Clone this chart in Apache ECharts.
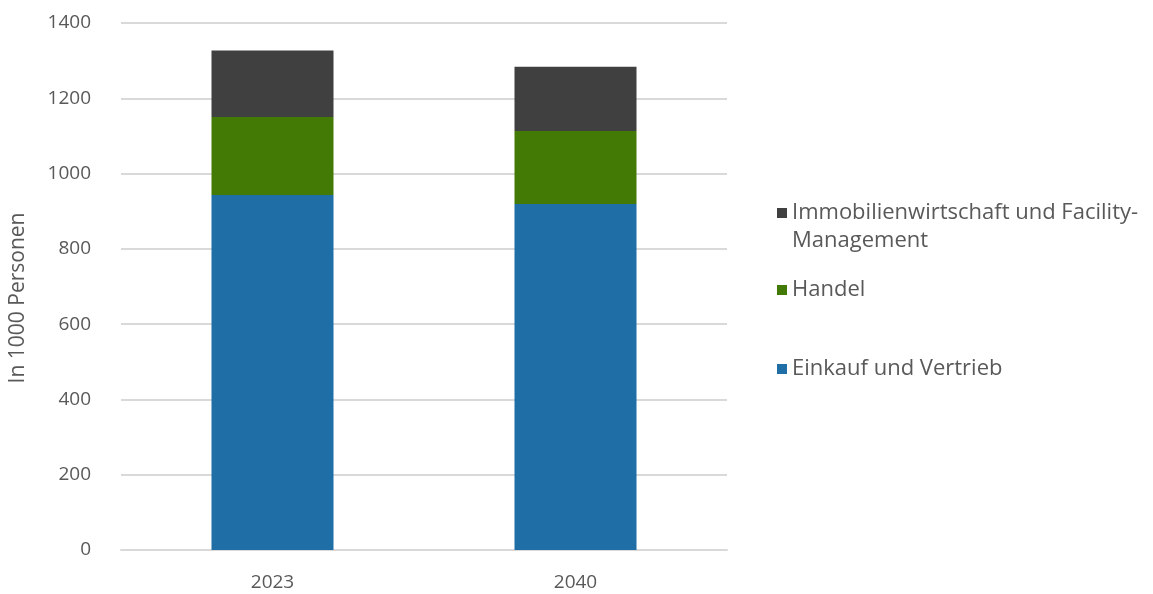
<!DOCTYPE html>
<html>
<head>
<meta charset="utf-8">
<script src="https://cdn.jsdelivr.net/npm/echarts@6/dist/echarts.min.js"></script>
<style>
  html, body { margin: 0; padding: 0; background: #fff; }
  #chart { width: 1153px; height: 594px; }
</style>
</head>
<body>
<div id="chart"></div>
<script>
// Jahre
const years = ['2023', '2040'];
// Werte in 1000 Personen
const einkauf = [943, 919];
const handel = [207, 194];
const immobilien = [177, 171];
const yTicks = [0, 200, 400, 600, 800, 1000, 1200, 1400];

const names = {
    einkauf: 'Einkauf und Vertrieb',
    handel: 'Handel',
    immo: 'Immobilienwirtschaft und Facility-Management'
};

const font = '"Open Sans", sans-serif';
const grey = '#595959';

function legendAt(name, top) {
    return {
        orient: 'vertical',
        left: 772,
        top: top,
        itemWidth: 10,
        itemHeight: 10,
        itemGap: 0,
        icon: 'rect',
        data: [name],
        // erste Zeile soll auf Höhe des Symbols stehen
        formatter: function (n) {
            return n === names.immo ? ' \nImmobilienwirtschaft und Facility-\nManagement' : n;
        },
        textStyle: {
            fontFamily: font,
            fontSize: 22,
            color: grey,
            lineHeight: 28
        }
    };
}

const chart = echarts.init(document.getElementById('chart'));
chart.setOption({
    animation: false,
    grid: { left: 119, right: 426, top: 23, bottom: 44 },
    legend: [
        legendAt(names.immo, 166),
        legendAt(names.handel, 271),
        legendAt(names.einkauf, 350)
    ],
    xAxis: {
        type: 'category',
        data: years,
        axisTick: { show: false },
        axisLine: { lineStyle: { color: '#d9d9d9', width: 2 } },
        axisLabel: { fontFamily: font, fontSize: 19, color: grey, margin: 23 }
    },
    yAxis: {
        type: 'value',
        min: yTicks[0],
        max: yTicks[yTicks.length - 1],
        interval: 200,
        name: '{a|In 1000 Personen}',
        nameLocation: 'middle',
        nameGap: 92,
        nameTextStyle: {
            fontFamily: font, fontSize: 21, color: grey,
            rich: { a: { fontFamily: font, fontSize: 21, color: grey, padding: [0, 23, 0, 0] } }
        },
        axisLine: { show: false },
        axisTick: { show: false },
        splitLine: { lineStyle: { color: '#d9d9d9', width: 2 } },
        axisLabel: {
            fontFamily: font, fontSize: 19, color: grey, margin: 30,
            formatter: function (v) { return String(v); }
        }
    },
    series: [
        {
            name: names.einkauf, type: 'bar', stack: 'total', barWidth: 122,
            itemStyle: { color: '#1f6fa6' }, data: einkauf
        },
        {
            name: names.handel, type: 'bar', stack: 'total', barWidth: 122,
            itemStyle: { color: '#437a06' }, data: handel
        },
        {
            name: names.immo, type: 'bar', stack: 'total', barWidth: 122,
            itemStyle: { color: '#404040' }, data: immobilien
        }
    ]
});
</script>
</body>
</html>
